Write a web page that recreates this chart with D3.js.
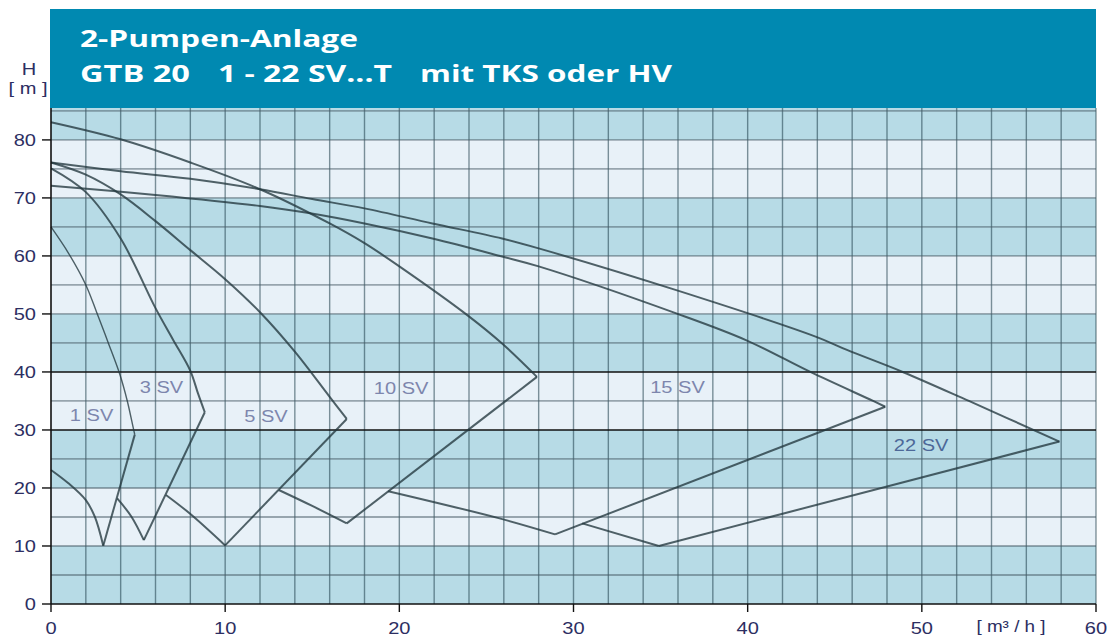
<!DOCTYPE html>
<html>
<head>
<meta charset="utf-8">
<script src="https://cdn.jsdelivr.net/npm/d3@7/dist/d3.min.js"></script>
<style>
  body { margin: 0; background: #fff; }
</style>
</head>
<body>
<div id="chart"></div>
<script>
// values (Q in m3/h, H in m)
const xTicks = [0, 10, 20, 30, 40, 50, 60]
const yTicks = [0, 10, 20, 30, 40, 50, 60, 70, 80]
const pumps = ['1 SV', '3 SV', '5 SV', '10 SV', '15 SV', '22 SV']

// head curve, from Q = 0 to the end point
const upper1SV = [[0, 65], [1, 60.5], [2, 55], [2.62, 50.3], [3.29, 45], [3.95, 39.6], [4.38, 35], [4.72, 30.4], [4.81, 29.2]]
const upper3SV = [[0, 75.1], [2, 71], [4, 63], [6, 51], [7, 45.6], [8, 40.2], [8.44, 36.3], [8.83, 33.05]]
const upper5SV = [[0, 76.1], [2, 74], [4, 70.6], [6, 66], [8, 61], [10, 56], [12, 50.3], [14, 43.5], [16, 35.7], [16.98, 31.9]]
const upper10SV = [[0, 83.05], [4, 80.1], [8, 76.1], [12, 71.5], [16, 65.6], [18, 62.2], [20, 58.2], [23.9, 49.8], [25.9, 44.9], [27.9, 39.15]]
const upper15SV = [[0, 72.1], [6, 70.5], [12, 68.6], [14.8, 67.4], [18, 65.6], [21.9, 63], [25.9, 59.9], [28, 58.2], [35.9, 50.1], [39.9, 45.5], [43.6, 40], [47.2, 35], [47.9, 34]]
const upper22SV = [[0, 76.1], [4, 74.6], [8, 73.3], [12, 71.5], [15, 69.8], [18, 68.2], [21.9, 65.6], [25.9, 63], [28, 61.3], [35.9, 54.1], [43.9, 46.1], [45.7, 43.8], [48.9, 40], [52.7, 35], [57.9, 28]]

// lower branch, ending in the low point that the straight line drops to
const lower1SV = [[0, 23.1], [1, 20.8], [2, 17.9], [2.52, 15], [3, 10.05]]
const lower3SV = [[3.8, 18.2], [4.62, 15.05], [5.33, 11]]
const lower5SV = [[6.6, 18.8], [7.97, 15.6], [10, 10.1]]
const lower10SV = [[13.08, 19.65], [15, 16.9], [16.98, 13.9]]
const lower15SV = [[19.36, 19.45], [25.7, 14.8], [28.94, 12]]
const lower22SV = [[30.5, 13.9], [34.9, 10]]

// where each series name sits (Q, H)
const labelAt = [[2.33, 31.5], [6.34, 36.3], [12.34, 31.3], [20.1, 36.2], [35.97, 36.3], [49.96, 26.3]]

const uppers = [upper1SV, upper3SV, upper5SV, upper10SV, upper15SV, upper22SV]
const lowers = [lower1SV, lower3SV, lower5SV, lower10SV, lower15SV, lower22SV]

const width = 1111
const height = 639

const svg = d3
  .select('#chart')
  .append('svg')
  .attr('width', width)
  .attr('height', height)
  .style('font-family', "'Liberation Sans', Arial, sans-serif")

const x = d3.scaleLinear().domain([0, 60]).range([51, 1096])
const y = d3.scaleLinear().domain([0, 85.5]).range([604, 108])

// the picture is a bit wider than tall, so text is stretched sideways
const stretch = 1.18
function place(sel, px, py) {
  return sel.attr('transform', `translate(${px},${py}) scale(${stretch},1)`)
}

// horizontal bands
const bandEdges = d3.range(0, 90, 10).concat([85.5])
const bands = d3.pairs(bandEdges)
svg
  .selectAll('.band')
  .data(bands)
  .enter()
  .append('rect')
  .attr('class', 'band')
  .attr('x', x(0))
  .attr('width', x(60) - x(0))
  .attr('y', d => y(d[1]))
  .attr('height', d => y(d[0]) - y(d[1]))
  .attr('fill', (d, i) => (i % 2 === 0 ? '#b7dbe6' : '#e8f1f8'))

// grid
svg
  .selectAll('.vgrid')
  .data(d3.range(2, 61, 2))
  .enter()
  .append('line')
  .attr('class', 'vgrid')
  .attr('x1', d => x(d))
  .attr('x2', d => x(d))
  .attr('y1', y(0))
  .attr('y2', y(85.5))
  .attr('stroke', 'rgba(30,60,72,0.55)')
  .attr('stroke-width', 1.4)

svg
  .selectAll('.hgrid')
  .data(d3.range(5, 86, 5))
  .enter()
  .append('line')
  .attr('class', 'hgrid')
  .attr('x1', x(0))
  .attr('x2', x(60))
  .attr('y1', d => y(d))
  .attr('y2', d => y(d))
  .attr('stroke', d => (d === 30 || d === 40 ? '#111' : 'rgba(70,90,100,0.5)'))
  .attr('stroke-width', d => (d === 30 || d === 40 ? 1.4 : 1.8))

// header
svg
  .append('rect')
  .attr('x', 50)
  .attr('y', 9)
  .attr('width', 1046)
  .attr('height', 99)
  .attr('fill', '#0089b1')

const titleStyle = sel =>
  sel
    .attr('fill', '#fff')
    .attr('font-family', "'Open Sans', sans-serif")
    .attr('font-weight', 700)
    .attr('font-size', 23)
    .attr('lengthAdjust', 'spacingAndGlyphs')

svg.append('text').attr('x', 80).attr('y', 47).attr('textLength', 278).text('2-Pumpen-Anlage').call(titleStyle)
svg.append('text').attr('x', 80).attr('y', 82).attr('textLength', 110).text('GTB 20').call(titleStyle)
svg.append('text').attr('x', 218).attr('y', 82).attr('textLength', 174).text('1 - 22 SV...T').call(titleStyle)
svg.append('text').attr('x', 420).attr('y', 82).attr('textLength', 252).text('mit TKS oder HV').call(titleStyle)

// curves
const smooth = d3
  .line()
  .x(d => x(d[0]))
  .y(d => y(d[1]))
  .curve(d3.curveCatmullRom.alpha(0.5))
const straight = d3
  .line()
  .x(d => x(d[0]))
  .y(d => y(d[1]))

const curveColor = 'rgba(35,55,62,0.78)'

pumps.forEach((name, i) => {
  const up = uppers[i]
  const low = lowers[i]
  const g = svg.append('g').attr('class', 'pump')
  g.append('path')
    .attr('d', smooth(up))
    .attr('fill', 'none')
    .attr('stroke', curveColor)
    .attr('stroke-width', i === 0 ? 1.4 : 2)
  g.append('path')
    .attr('d', straight([up[up.length - 1], low[low.length - 1]]))
    .attr('fill', 'none')
    .attr('stroke', curveColor)
    .attr('stroke-width', 2)
  g.append('path')
    .attr('d', smooth(low))
    .attr('fill', 'none')
    .attr('stroke', curveColor)
    .attr('stroke-width', 2)
  place(g.append('text'), x(labelAt[i][0]), y(labelAt[i][1]))
    .attr('text-anchor', 'middle')
    .attr('font-size', 17)
    .attr('fill', name === '22 SV' ? '#4d6898' : '#7d86ad')
    .text(name)
})

// axes
svg
  .append('line')
  .attr('x1', x(0))
  .attr('x2', x(0))
  .attr('y1', y(85.5))
  .attr('y2', y(0))
  .attr('stroke', '#111')
  .attr('stroke-width', 1.6)
svg
  .append('line')
  .attr('x1', x(0))
  .attr('x2', x(60))
  .attr('y1', y(0))
  .attr('y2', y(0))
  .attr('stroke', '#111')
  .attr('stroke-width', 1.6)

svg
  .selectAll('.ytick')
  .data(yTicks)
  .enter()
  .append('line')
  .attr('class', 'ytick')
  .attr('x1', x(0) - 9)
  .attr('x2', x(0))
  .attr('y1', d => y(d))
  .attr('y2', d => y(d))
  .attr('stroke', '#111')
  .attr('stroke-width', 1.4)

svg
  .selectAll('.xtick')
  .data(xTicks)
  .enter()
  .append('line')
  .attr('class', 'xtick')
  .attr('x1', d => x(d))
  .attr('x2', d => x(d))
  .attr('y1', y(0))
  .attr('y2', y(0) + 8)
  .attr('stroke', '#111')
  .attr('stroke-width', 1.4)

const axisText = '#2c2e62'

yTicks.forEach(d => {
  place(svg.append('text'), 36, y(d) + 6)
    .attr('text-anchor', 'end')
    .attr('font-size', 17)
    .attr('fill', axisText)
    .text(d)
})

xTicks.forEach(d => {
  place(svg.append('text'), x(d), 634)
    .attr('text-anchor', 'middle')
    .attr('font-size', 17)
    .attr('fill', axisText)
    .text(d)
})

place(svg.append('text'), 1011, 632)
  .attr('text-anchor', 'middle')
  .attr('font-size', 16)
  .attr('fill', axisText)
  .text('[ m³ / h ]')

place(svg.append('text'), 29, 75)
  .attr('text-anchor', 'middle')
  .attr('font-size', 17)
  .attr('fill', axisText)
  .text('H')

place(svg.append('text'), 28, 94)
  .attr('text-anchor', 'middle')
  .attr('font-size', 17)
  .attr('fill', axisText)
  .text('[ m ]')
</script>
</body>
</html>
